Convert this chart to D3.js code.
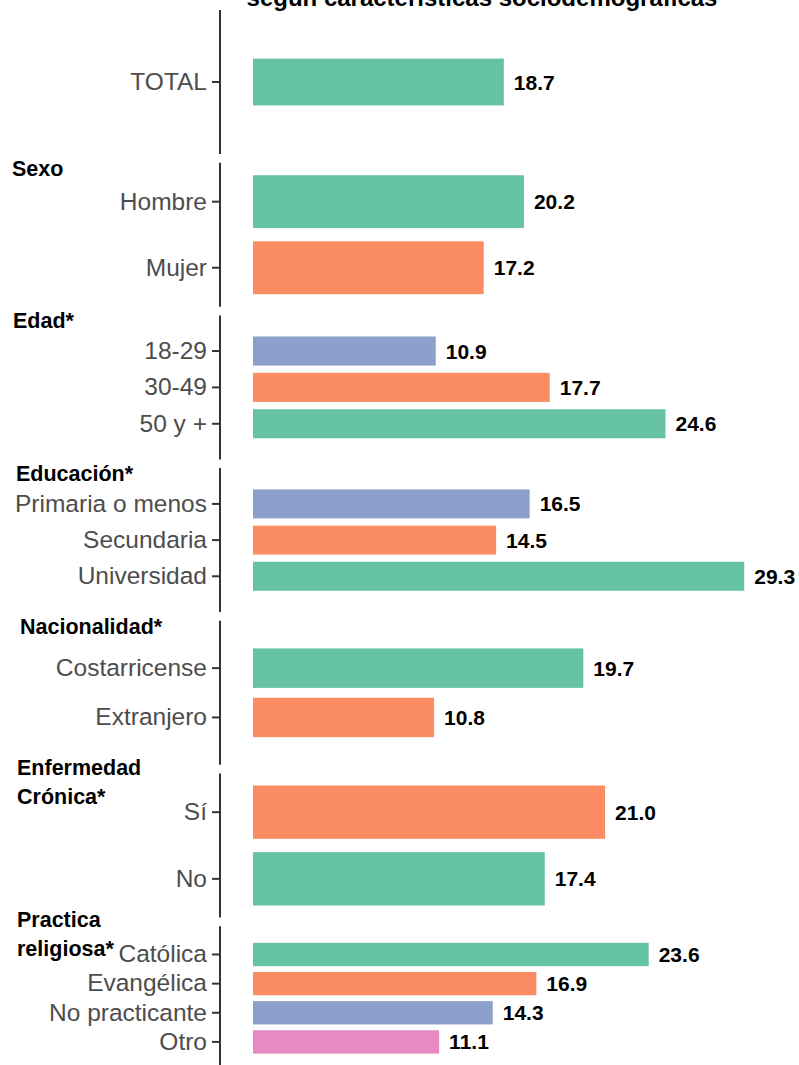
<!DOCTYPE html>
<html>
<head>
<meta charset="utf-8">
<script src="https://cdn.jsdelivr.net/npm/d3@7"></script>
<style>
  body { margin: 0; background: #fff; }
  svg { display: block; font-family: "Liberation Sans", Arial, sans-serif; }
</style>
</head>
<body>
<div id="chart"></div>
<script>
// Data
var groupNames = ["", "Sexo", "Edad*", "Educación*", "Nacionalidad*", "Enfermedad\nCrónica*", "Practica\nreligiosa*"];
var groupCategories = [
    ["TOTAL"],
    ["Hombre", "Mujer"],
    ["18-29", "30-49", "50 y +"],
    ["Primaria o menos", "Secundaria", "Universidad"],
    ["Costarricense", "Extranjero"],
    ["Sí", "No"],
    ["Católica", "Evangélica", "No practicante", "Otro"]
];
var groupValues = [
    [18.7],
    [20.2, 17.2],
    [10.9, 17.7, 24.6],
    [16.5, 14.5, 29.3],
    [19.7, 10.8],
    [21.0, 17.4],
    [23.6, 16.9, 14.3, 11.1]
];
// Set2 palette index for each bar (0 green, 1 orange, 2 blue, 3 pink)
var groupFill = [
    [0],
    [0, 1],
    [2, 1, 0],
    [2, 1, 0],
    [0, 1],
    [1, 0],
    [0, 1, 2, 3]
];
var titleText = "según características sociodemográficas";

// Setup
var width = 799, height = 1065;
var axisX = 220, barX0 = 253, barX1 = 756;
var panelTop0 = 10, panelStep = 152.7, panelHeight = 144;
var panelPadOuter = [0.83, 0.19, 0.58, 0.59, 0.56, 0.18, 0.57];
var panelXMax = [37.5, 37.5, 30, 30, 30, 30, 30];
var stripX = [0, 12, 13, 16, 20, 17, 17];

var fillColor = d3.scaleOrdinal().domain([0, 1, 2, 3]).range(d3.schemeSet2);

var svg = d3.select("#chart")
    .append("svg")
    .attr("width", width)
    .attr("height", height);

// title (cut at the top in the original)
svg.append("text")
    .attr("x", 482)
    .attr("y", 6)
    .attr("text-anchor", "middle")
    .attr("font-weight", "bold")
    .attr("font-size", "24px")
    .attr("fill", "#000")
    .text(titleText);

groupNames.forEach(function (name, i) {
    var top = panelTop0 + i * panelStep;
    var rows = groupCategories[i].map(function (c, j) {
        return { cat: c, value: groupValues[i][j], fill: groupFill[i][j] };
    });

    var y = d3.scaleBand()
        .domain(groupCategories[i])
        .range([top, top + panelHeight])
        .paddingInner(0.2)
        .paddingOuter(panelPadOuter[i]);

    var x = d3.scaleLinear()
        .domain([0, panelXMax[i]])
        .range([barX0, barX1]);

    var panel = svg.append("g");

    // y axis
    var yAxis = panel.append("g")
        .attr("transform", `translate(${axisX},0)`)
        .call(d3.axisLeft(y).tickSize(8).tickPadding(5).tickSizeOuter(0));
    yAxis.select(".domain")
        .attr("d", `M0,${top}V${top + panelHeight}`)
        .attr("stroke", "#333")
        .attr("stroke-width", 2);
    yAxis.selectAll(".tick line")
        .attr("stroke", "#333")
        .attr("stroke-width", 2);
    yAxis.selectAll(".tick text")
        .attr("font-family", "Liberation Sans, Arial, sans-serif")
        .attr("font-size", "24.5px")
        .attr("fill", "#4d4d4d");

    // bars
    panel.selectAll("rect")
        .data(rows)
        .enter()
        .append("rect")
        .attr("x", x(0))
        .attr("y", function (d) { return y(d.cat); })
        .attr("width", function (d) { return x(d.value) - x(0); })
        .attr("height", y.bandwidth())
        .attr("fill", function (d) { return fillColor(d.fill); });

    // value labels
    panel.selectAll(".val")
        .data(rows)
        .enter()
        .append("text")
        .attr("class", "val")
        .attr("x", function (d) { return x(d.value) + 10; })
        .attr("y", function (d) { return y(d.cat) + y.bandwidth() / 2; })
        .attr("dy", "0.36em")
        .attr("font-weight", "bold")
        .attr("font-size", "21px")
        .attr("fill", "#000")
        .text(function (d) { return d.value.toFixed(1); });

    // strip label
    if (name) {
        var lines = name.split("\n");
        var firstBase = lines.length > 1 ? top + 1 : top + 13;
        var label = panel.append("text")
            .attr("font-weight", "bold")
            .attr("font-size", "21.5px")
            .attr("fill", "#000");
        lines.forEach(function (ln, k) {
            label.append("tspan")
                .attr("x", stripX[i])
                .attr("y", firstBase + k * 29)
                .text(ln);
        });
    }
});
</script>
</body>
</html>
